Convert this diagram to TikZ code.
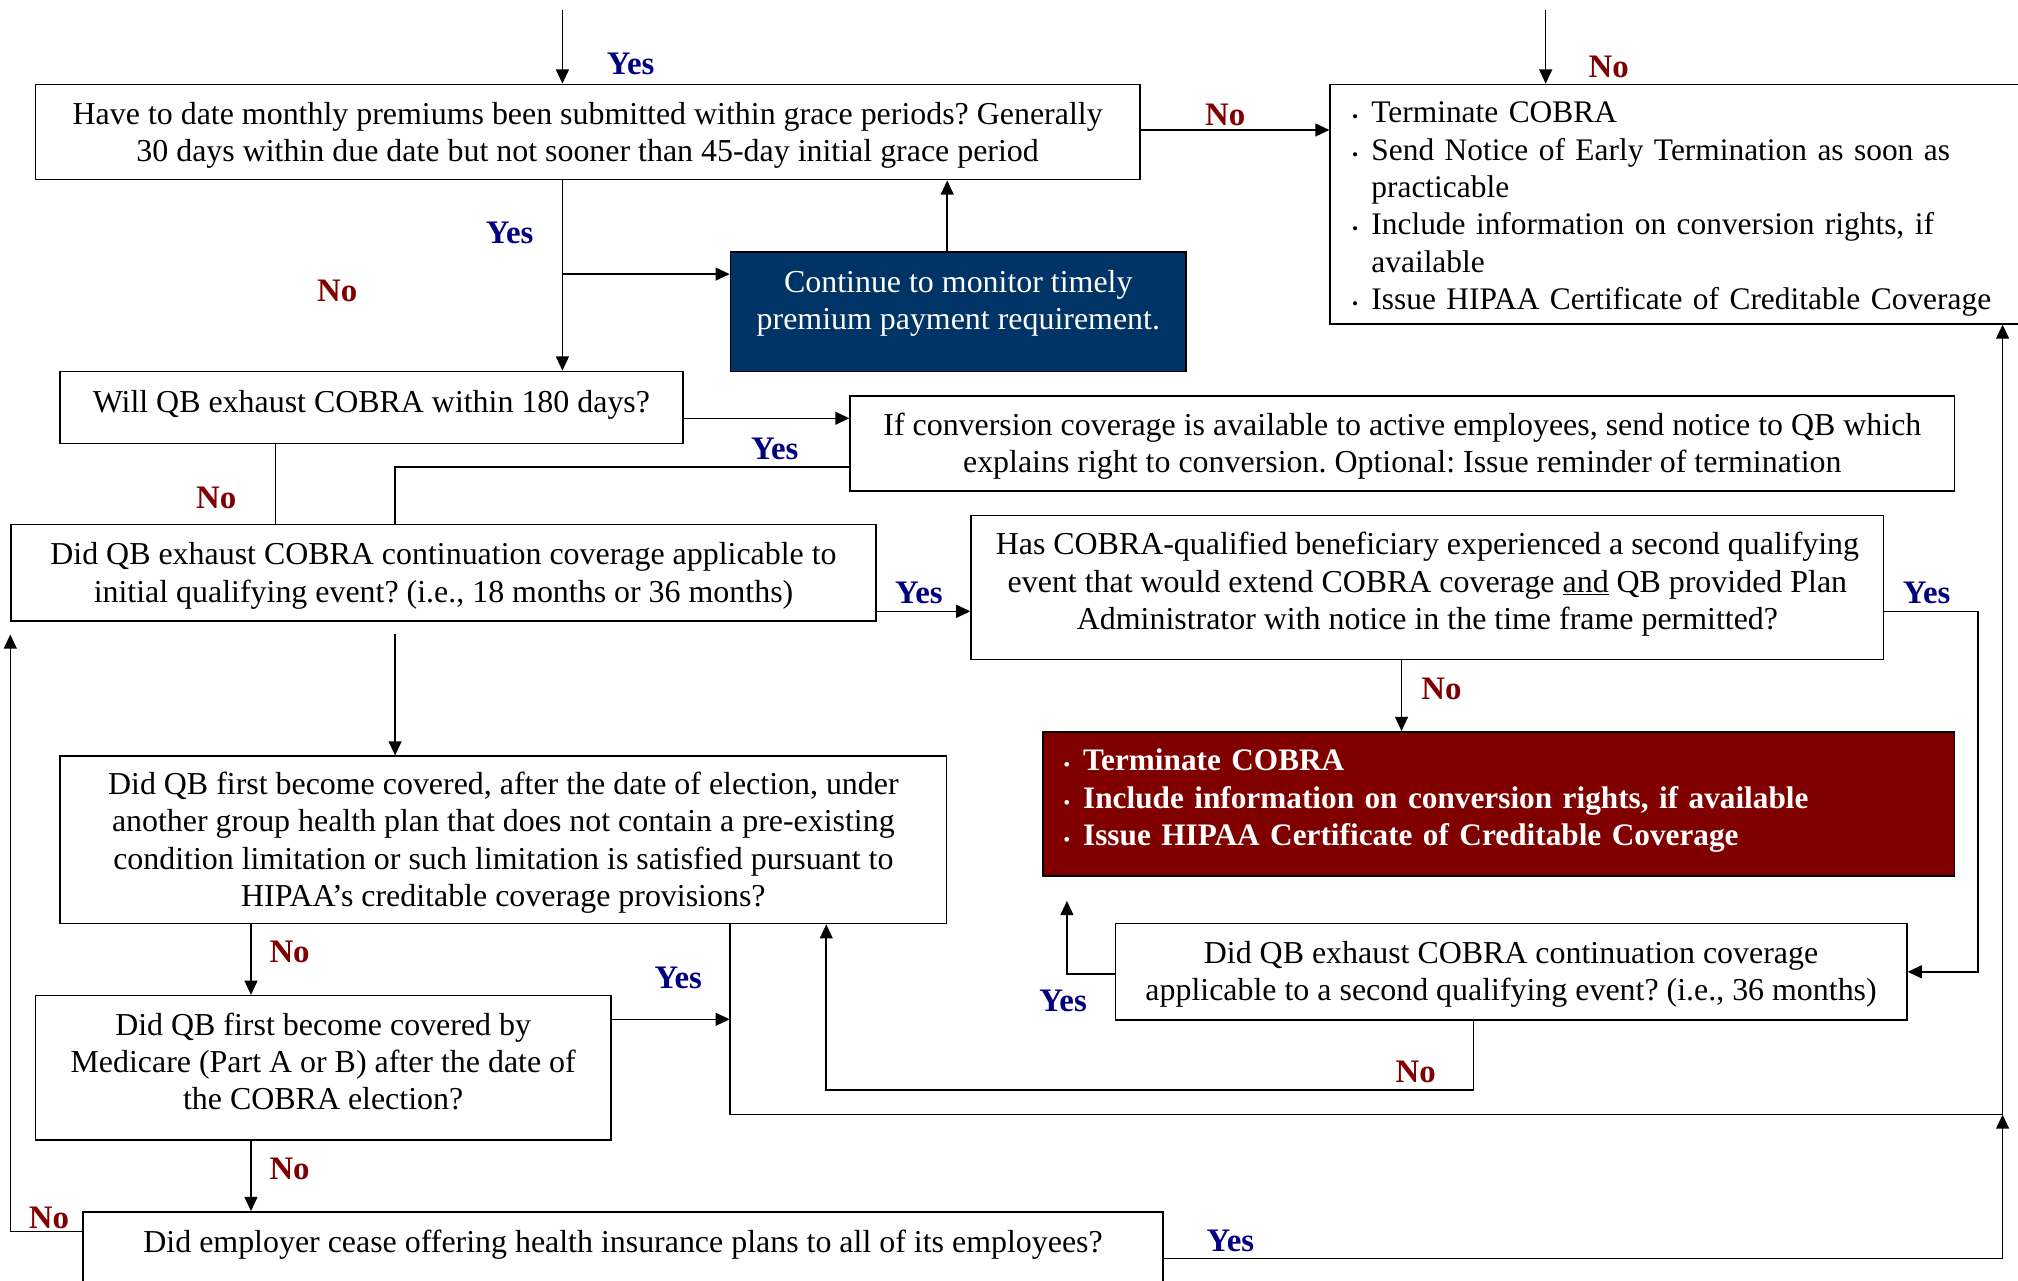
\documentclass[tikz,border=0pt]{standalone}
\usepackage{fontspec}
\setmainfont{Liberation Serif}
\usepackage{graphicx}
\usetikzlibrary{arrows.meta}
\definecolor{yescol}{HTML}{000080}
\definecolor{nocol}{HTML}{800000}
\definecolor{blueboxcol}{HTML}{003366}
\definecolor{redboxcol}{HTML}{800000}
\frenchspacing
\newcommand\bul{\makebox[13pt][l]{\hspace*{-2pt}\scalebox{0.55}{•}}}
\newcommand\hang{\hspace*{13pt}}
\newcommand\lines[2][c]{\begin{tabular}{@{}#1@{}}#2\end{tabular}}
\newcommand\shift[2]{\raisebox{#1}[\height][\depth]{#2}}
\begin{document}
\begin{tikzpicture}[x=1pt,y=-1pt,
  font=\fontsize{24.8}{29}\selectfont,
  box/.style={draw, line width=1.2pt, inner sep=0pt, anchor=north west, align=center},
  arr/.style={line width=1.2pt, -{Triangle[length=11pt,width=10pt]}},
  ln/.style={line width=1.2pt},
  yes/.style={text=yescol, font=\fontsize{25.5}{29}\selectfont\bfseries},
  no/.style={text=nocol, font=\fontsize{25.5}{29}\selectfont\bfseries}
]
\useasboundingbox (0,0) rectangle (1568,995);

% boxes
\node[box, minimum width=858pt, minimum height=74pt] (A) at (27,65)
  {\shift{-2.5pt}{\lines{Have to date monthly premiums been submitted within grace periods? Generally\\30 days within due date but not sooner than 45-day initial grace period}}};
\node[box, inner xsep=19pt, text width=560pt, minimum height=186pt, align=left, font=\fontsize{24.4}{29}\selectfont] (T1) at (1033,65)
  {\shift{-3.5pt}{\lines[l]{\bul Terminate COBRA\\
   \bul Send Notice of Early Termination as soon as\\
   \hang practicable\\
   \bul Include information on conversion rights, if\\
   \hang available\\
   \bul Issue HIPAA Certificate of Creditable Coverage}}};
\node[box, fill=blueboxcol, text=white, minimum width=354pt, minimum height=93pt] (blue) at (567,195)
  {\shift{6.5pt}{\lines{Continue to monitor timely\\premium payment requirement.}}};
\node[box, minimum width=484pt, minimum height=56pt] (B) at (46,288)
  {\shift{1.5pt}{\lines{Will QB exhaust COBRA within 180 days?}}};
\node[box, minimum width=858pt, minimum height=74pt] (C) at (660,307)
  {\shift{-2.5pt}{\lines{If conversion coverage is available to active employees, send notice to QB which\\explains right to conversion. Optional: Issue reminder of termination}}};
\node[box, minimum width=672pt, minimum height=75pt] (D) at (8,407)
  {\shift{-2.5pt}{\lines{Did QB exhaust COBRA continuation coverage applicable to\\initial qualifying event? (i.e., 18 months or 36 months)}}};
\node[box, minimum width=709pt, minimum height=112pt] (E) at (754,400)
  {\shift{2.2pt}{\lines{Has COBRA-qualified beneficiary experienced a second qualifying\\event that would extend COBRA coverage \underline{and} QB provided Plan\\Administrator with notice in the time frame permitted?}}};
\node[box, fill=redboxcol, text=white, inner xsep=18pt, text width=672pt, minimum height=112pt, align=left, font=\fontsize{24.3}{29}\selectfont\bfseries] (F) at (810,568)
  {\shift{2.5pt}{\lines[l]{\bul Terminate COBRA\\\bul Include information on conversion rights, if available\\\bul Issue HIPAA Certificate of Creditable Coverage}}};
\node[box, minimum width=615pt, minimum height=75pt] (G) at (866,717)
  {\shift{-2pt}{\lines{Did QB exhaust COBRA continuation coverage\\applicable to a second qualifying event? (i.e., 36 months)}}};
\node[box, minimum width=689pt, minimum height=130pt] (H) at (46,587)
  {\shift{-2.5pt}{\lines{Did QB first become covered, after the date of election, under\\another group health plan that does not contain a pre-existing\\condition limitation or such limitation is satisfied pursuant to\\HIPAA’s creditable coverage provisions?}}};
\node[box, minimum width=447pt, minimum height=112pt] (I) at (27,773)
  {\shift{2.2pt}{\lines{Did QB first become covered by\\Medicare (Part A or B) after the date of\\the COBRA election?}}};
\node[box, minimum width=839pt, minimum height=62pt] (J) at (64,941)
  {\shift{5.5pt}{\lines{Did employer cease offering health insurance plans to all of its employees?}}};

% helper coordinates
\coordinate (inA) at (437,8);
\coordinate (inT) at (1201,8);
\coordinate (yAT) at (0,101);
\coordinate (br) at (437,213);
\coordinate (x736) at (736,0);
\coordinate (yBC) at (0,325);
\coordinate (yCD) at (0,363);
\coordinate (x307) at (307,0);
\coordinate (x214) at (214,0);
\coordinate (yDE) at (0,475);
\coordinate (cR) at (1537,475);
\coordinate (x1089) at (1089,0);
\coordinate (gY) at (829,700);
\coordinate (yG) at (0,757);
\coordinate (x1145) at (1145,0);
\coordinate (cNo) at (642,847);
\coordinate (dH) at (307,493);
\coordinate (x195) at (195,0);
\coordinate (yI) at (0,792);
\coordinate (cIY) at (567,792);
\coordinate (cLow) at (567,866);
\coordinate (cRR) at (1556,866);
\coordinate (yJL) at (0,957);
\coordinate (cJL) at (8,493);
\coordinate (yJR) at (0,978);

% connectors
\draw[arr] (inA) -- (inA |- A.north);
\draw[arr] (inT) -- (inT |- T1.north);
\draw[arr] (A.east |- yAT) -- (T1.west |- yAT);
\draw[arr] (A.south -| inA) -- (B.north -| inA);
\draw[arr] (br) -- (blue.west |- br);
\draw[arr] (blue.north -| x736) -- (A.south -| x736);
\draw[arr] (B.east |- yBC) -- (C.west |- yBC);
\draw[ln] (C.west |- yCD) -| (D.north -| x307);
\draw[ln] (B.south -| x214) -- (D.north -| x214);
\draw[arr] (D.east |- yDE) -- (E.west |- yDE);
\draw[arr] (E.east |- cR) -- (cR) |- (G.east);
\draw[arr] (E.south -| x1089) -- (F.north -| x1089);
\draw[arr] (G.west |- yG) -| (gY);
\draw[arr] (G.south -| x1145) |- (cNo) -- (H.south -| cNo);
\draw[arr] (dH) -- (H.north -| dH);
\draw[arr] (H.south -| x195) -- (I.north -| x195);
\draw[arr] (I.east |- yI) -- (cIY);
\draw[ln] (H.south -| cLow) -- (cLow) -- (cRR);
\draw[arr] (cRR) -- (T1.south -| cRR);
\draw[arr] (I.south -| x195) -- (J.north -| x195);
\draw[arr] (J.west |- yJL) -| (cJL);
\draw[arr] (J.east |- yJR) -| (cRR);

% labels
\node[yes] (l1) at (490,50) {Yes};
\node[no]  (l2) at (1250,52) {No};
\node[no]  (l3) at (952,89) {No};
\node[yes] (l4) at (396,181) {Yes};
\node[no]  (l5) at (262,226) {No};
\node[yes] (l6) at (602,349) {Yes};
\node[no]  (l7) at (168,387) {No};
\node[yes] (l8) at (714,461) {Yes};
\node[yes] (l9) at (1497,461) {Yes};
\node[no]  (l10) at (1120,535) {No};
\node[no]  (l11) at (225,740) {No};
\node[yes] (l12) at (527,760) {Yes};
\node[yes] (l13) at (826,778) {Yes};
\node[no]  (l14) at (1100,833) {No};
\node[no]  (l15) at (225,908) {No};
\node[no]  (l16) at (38,946) {No};
\node[yes] (l17) at (956,964) {Yes};
\end{tikzpicture}
\end{document}
